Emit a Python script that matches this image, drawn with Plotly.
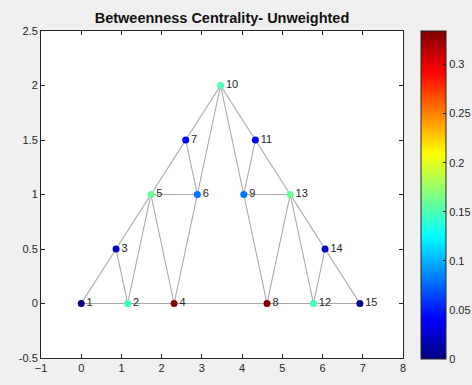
import plotly.graph_objects as go

node_ids = list(range(1, 16))
node_x = [0.0, 1.155, 0.866, 2.309, 1.732, 2.887, 2.598, 4.619, 4.041, 3.464, 4.330, 5.774, 5.196, 6.062, 6.928]
node_y = [0.0, 0.0, 0.5, 0.0, 1.0, 1.0, 1.5, 0.0, 1.0, 2.0, 1.5, 0.0, 1.0, 0.5, 0.0]
edge_src = [1, 1, 2, 2, 2, 3, 4, 4, 5, 5, 6, 6, 7, 4, 8, 8, 8, 9, 9, 9, 10, 11, 12, 12, 12, 13, 14]
edge_dst = [2, 3, 3, 4, 5, 5, 5, 6, 6, 7, 7, 10, 10, 8, 9, 12, 13, 10, 11, 13, 11, 13, 13, 14, 15, 14, 15]
bc = [0.0, 0.1454, 0.0222, 0.3342, 0.1597, 0.0790, 0.0418, 0.3342, 0.0790, 0.1498, 0.0418, 0.1454, 0.1597, 0.0222, 0.0]
cbar_ticks = [0, 0.05, 0.1, 0.15, 0.2, 0.25, 0.3]
cbar_labels = ["0", "0.05", "0.1", "0.15", "0.2", "0.25", "0.3"]

jet = [[0.0, "rgb(0,0,128)"], [0.125, "rgb(0,0,255)"], [0.375, "rgb(0,255,255)"],
       [0.625, "rgb(255,255,0)"], [0.875, "rgb(255,0,0)"], [1.0, "rgb(128,0,0)"]]

fig = go.Figure()
ex, ey = [], []
for a, b in zip(edge_src, edge_dst):
    ex += [node_x[a - 1], node_x[b - 1], None]
    ey += [node_y[a - 1], node_y[b - 1], None]
fig.add_trace(go.Scatter(x=ex, y=ey, mode="lines", line=dict(color="#a8a8a8", width=1.1),
                         hoverinfo="skip", showlegend=False))
fig.add_trace(go.Scatter(
    x=node_x, y=node_y, mode="markers+text", text=[str(i) for i in node_ids],
    textposition="middle right", textfont=dict(family="Liberation Sans, Arial", size=11, color="#262626"),
    marker=dict(size=7, color=bc, colorscale=jet, cmin=0, cmax=max(bc),
                colorbar=dict(x=1.0497, xanchor="left", y=0.4985, yanchor="middle",
                              thickness=25, thicknessmode="pixels", len=328, lenmode="pixels",
                              tickvals=cbar_ticks, ticktext=cbar_labels,
                              ticks="inside", ticklen=3, tickcolor="#262626",
                              outlinecolor="#262626", outlinewidth=1, xpad=0, ypad=0,
                              tickfont=dict(family="Liberation Sans, Arial", size=11, color="#262626"))),
    showlegend=False))

axis_common = dict(showgrid=False, zeroline=False, showline=True, linecolor="#262626", linewidth=1,
                   mirror="ticks", ticks="inside", ticklen=4, tickcolor="#262626",
                   tickfont=dict(family="Liberation Sans, Arial", size=11, color="#262626"))
fig.update_xaxes(range=[-1, 8], tickvals=list(range(-1, 9)), **axis_common)
fig.update_yaxes(range=[-0.5, 2.5], tickvals=[-0.5, 0, 0.5, 1, 1.5, 2, 2.5],
                 ticktext=["-0.5", "0", "0.5", "1", "1.5", "2", "2.5"], **axis_common)
fig.update_layout(
    width=472, height=385, margin=dict(l=41, r=69, t=31, b=27, autoexpand=False),
    paper_bgcolor="#f0f0f0", plot_bgcolor="white",
    title=dict(text="<b>Betweenness Centrality- Unweighted</b>", x=0.5, xref="paper", xanchor="center",
               y=1 - 18 / 385, yanchor="middle",
               font=dict(family="Liberation Sans, Arial", size=14.5, color="#111111")),
)
fig.write_html("out.html")
